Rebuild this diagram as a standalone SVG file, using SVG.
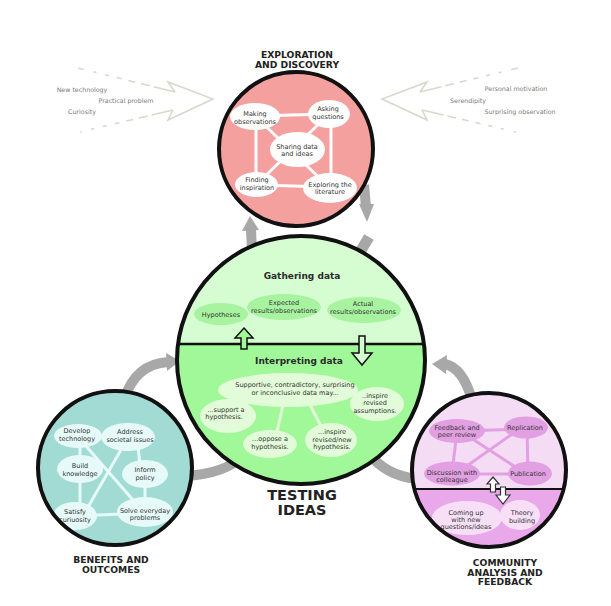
<svg xmlns="http://www.w3.org/2000/svg" width="611" height="606" viewBox="0 0 611 606">
<style>
.t{font-family:"DejaVu Sans",Verdana,sans-serif;font-size:6.5px;fill:#333;text-anchor:middle}
.s{font-family:"DejaVu Sans",Verdana,sans-serif;font-size:6.3px;fill:#7a7a7a;text-anchor:middle}
.h{font-family:"DejaVu Sans",Verdana,sans-serif;font-weight:bold;font-size:9.2px;fill:#222;text-anchor:middle}
.hg{font-family:"DejaVu Sans",Verdana,sans-serif;font-weight:bold;font-size:9px;fill:#2a2a2a;text-anchor:middle}
.big{font-family:"DejaVu Sans",Verdana,sans-serif;font-weight:bold;font-size:14.5px;fill:#222;text-anchor:middle}
.ring{fill:none;stroke:#111;stroke-width:4}
.gray{fill:none;stroke:#a8a8a8;stroke-width:10}
.grayf{fill:#a8a8a8}
.pale{fill:none;stroke:#d8d8cc;stroke-width:1.6}
.wl{stroke:#fff;stroke-width:3}
.tl{stroke:#e6fafa;stroke-width:3}
.pl{stroke:#e2a0e2;stroke-width:3}
</style>
<defs>
<clipPath id="cTop"><circle cx="296" cy="149" r="76"/></clipPath>
<clipPath id="cGreen"><circle cx="301" cy="360" r="123"/></clipPath>
<clipPath id="cTeal"><circle cx="115" cy="468" r="76"/></clipPath>
<clipPath id="cPink"><circle cx="489" cy="470" r="76"/></clipPath>
</defs>
<rect width="611" height="606" fill="#fff"/>

<g id="connectors">
<path class="gray" d="M252 252 L251 229"/>
<polygon class="grayf" points="242,231 259,230 250,216"/>
<path class="gray" d="M364 185 L366 207"/>
<polygon class="grayf" points="359,204 374,204 367,222"/>
<path class="gray" style="stroke-width:11" d="M369 237 L357 257"/>
<path class="gray" d="M124 400 Q135 364 168 362"/>
<polygon class="grayf" points="166,353 167,371 180,361"/>
<path class="gray" d="M244 455 Q225 474 185 476"/>
<path class="gray" d="M445 364 Q463 368 472 400"/>
<polygon class="grayf" points="447,355 446,374 432,364"/>
<path class="gray" d="M368 452 Q385 476 418 479"/>
</g>

<g id="left-arrow">
<path class="pale" d="M175 92 L168 82 L213 99 L168 120 L173 110"/>
<path class="pale" stroke-dasharray="22 4 9 6 7 7 5 8 4 9 3 10" d="M175 92 L78 68"/>
<path class="pale" stroke-dasharray="22 4 9 6 7 7 5 8 4 9 3 10" d="M173 110 L80 132"/>
<text class="s" x="82" y="92">New technology</text>
<text class="s" x="126" y="103">Practical problem</text>
<text class="s" x="82" y="114">Curiosity</text>
</g>
<g id="right-arrow">
<path class="pale" d="M420 92 L427 82 L382 99 L427 120 L422 110"/>
<path class="pale" stroke-dasharray="22 4 9 6 7 7 5 8 4 9 3 10" d="M420 92 L518 68"/>
<path class="pale" stroke-dasharray="22 4 9 6 7 7 5 8 4 9 3 10" d="M422 110 L516 132"/>
<text class="s" x="516" y="91">Personal motivation</text>
<text class="s" x="468" y="103">Serendipity</text>
<text class="s" x="520" y="114">Surprising observation</text>
</g>

<g id="exploration">
<circle cx="296" cy="149" r="77" fill="#f4a09e"/>
<g clip-path="url(#cTop)">
<line class="wl" x1="255" y1="116" x2="329" y2="114"/>
<line class="wl" x1="256" y1="116" x2="256" y2="185"/>
<line class="wl" x1="331" y1="114" x2="331" y2="188"/>
<line class="wl" x1="256" y1="185" x2="330" y2="187"/>
<line class="wl" x1="255" y1="116" x2="330" y2="188"/>
<line class="wl" x1="329" y1="114" x2="256" y2="185"/>
<ellipse cx="255" cy="116.5" rx="25" ry="13.5" fill="#fff"/>
<ellipse cx="329" cy="114" rx="21" ry="14" fill="#fff"/>
<ellipse cx="297.5" cy="149.5" rx="27.5" ry="17.5" fill="#fff"/>
<ellipse cx="256.5" cy="184.5" rx="21.5" ry="12.5" fill="#fff"/>
<ellipse cx="330" cy="188" rx="27" ry="15" fill="#fff"/>
<text class="t" x="255" y="115.5">Making</text>
<text class="t" x="255" y="123.5">observations</text>
<text class="t" x="328" y="110.5">Asking</text>
<text class="t" x="328" y="118.5">questions</text>
<text class="t" x="297" y="148.5">Sharing data</text>
<text class="t" x="297" y="155.5">and ideas</text>
<text class="t" x="257" y="181.5">Finding</text>
<text class="t" x="257" y="189.5">inspiration</text>
<text class="t" x="330" y="186.5">Exploring the</text>
<text class="t" x="330" y="193.5">literature</text>
</g>
<circle class="ring" cx="296" cy="149" r="77"/>
<text class="h" x="297" y="58">EXPLORATION</text>
<text class="h" x="297" y="68">AND DISCOVERY</text>
</g>

<g id="testing">
<g clip-path="url(#cGreen)">
<rect x="170" y="230" width="262" height="114" fill="#d6fdd2"/>
<rect x="170" y="344" width="262" height="150" fill="#a0f898"/>
<ellipse cx="221" cy="314" rx="27" ry="11" fill="#a8f3a0"/>
<ellipse cx="284" cy="307" rx="37" ry="13" fill="#a8f3a0"/>
<ellipse cx="364" cy="310" rx="37" ry="13" fill="#a8f3a0"/>
<line x1="283" y1="405" x2="277" y2="432" stroke="#e2fbd8" stroke-width="3"/>
<line x1="310" y1="405" x2="322" y2="428" stroke="#e2fbd8" stroke-width="3"/>
<ellipse cx="288" cy="390" rx="70" ry="17" fill="#e2fbd8"/>
<ellipse cx="377" cy="404" rx="27" ry="17" fill="#e2fbd8"/>
<ellipse cx="228" cy="416" rx="28" ry="17" fill="#e2fbd8"/>
<ellipse cx="270" cy="444" rx="27" ry="14" fill="#e2fbd8"/>
<ellipse cx="331" cy="440" rx="26" ry="17" fill="#e2fbd8"/>
<line x1="170" y1="344" x2="432" y2="344" stroke="#111" stroke-width="2.5"/>
</g>
<circle class="ring" cx="301" cy="360" r="124"/>
<polygon points="244,328 253,338 247,338 247,349 241,349 241,338 235,338" fill="#a0f898" stroke="#111" stroke-width="1.5"/>
<polygon points="359,336 365,336 365,353 372,353 362,365 352,353 359,353" fill="#d6fdd2" stroke="#111" stroke-width="1.5"/>
<text class="hg" x="302" y="279">Gathering data</text>
<text class="t" x="221" y="317">Hypotheses</text>
<text class="t" x="284" y="305">Expected</text>
<text class="t" x="284" y="313">results/observations</text>
<text class="t" x="363" y="306">Actual</text>
<text class="t" x="363" y="314">results/observations</text>
<text class="hg" x="299" y="364">Interpreting data</text>
<text class="t" x="295" y="387">Supportive, contradictory, surprising</text>
<text class="t" x="295" y="394.5">or inconclusive data may...</text>
<text class="t" x="375" y="398">..inspire</text>
<text class="t" x="375" y="405">revised</text>
<text class="t" x="375" y="412.5">assumptions.</text>
<text class="t" x="226" y="412">...support a</text>
<text class="t" x="224" y="419">hypothesis.</text>
<text class="t" x="270" y="441">...oppose a</text>
<text class="t" x="270" y="449">hypothesis.</text>
<text class="t" x="332" y="434">...inspire</text>
<text class="t" x="332" y="441.5">revised/new</text>
<text class="t" x="332" y="449">hypothesis.</text>
<text class="big" x="302" y="500">TESTING</text>
<text class="big" x="302" y="515">IDEAS</text>
</g>

<g id="benefits">
<circle cx="115" cy="468" r="77" fill="#a2dbd3"/>
<g clip-path="url(#cTeal)">
<line class="tl" x1="80" y1="436" x2="80" y2="516"/>
<line class="tl" x1="137" y1="437" x2="141" y2="474"/>
<line class="tl" x1="145" y1="474" x2="145" y2="512"/>
<line class="tl" x1="75" y1="516" x2="145" y2="513"/>
<line class="tl" x1="85" y1="445" x2="133" y2="500"/>
<line class="tl" x1="122" y1="448" x2="88" y2="507"/>
<ellipse cx="78" cy="436" rx="24" ry="12" fill="#e6fafa"/>
<ellipse cx="128" cy="437" rx="27" ry="14" fill="#e6fafa"/>
<ellipse cx="80" cy="469" rx="23" ry="14" fill="#e6fafa"/>
<ellipse cx="145" cy="474" rx="23" ry="14" fill="#e6fafa"/>
<ellipse cx="75" cy="516" rx="22" ry="14" fill="#e6fafa"/>
<ellipse cx="145" cy="512" rx="28" ry="15" fill="#e6fafa"/>
<text class="t" x="77" y="432.5">Develop</text>
<text class="t" x="77" y="440.5">technology</text>
<text class="t" x="130" y="433.5">Address</text>
<text class="t" x="130" y="441.5">societal issues</text>
<text class="t" x="80" y="467.5">Build</text>
<text class="t" x="80" y="475.5">knowledge</text>
<text class="t" x="145" y="471.5">Inform</text>
<text class="t" x="145" y="479.5">policy</text>
<text class="t" x="75" y="514">Satisfy</text>
<text class="t" x="75" y="521.5">curiuosity</text>
<text class="t" x="145" y="512.5">Solve everyday</text>
<text class="t" x="145" y="519.5">problems</text>
</g>
<circle class="ring" cx="115" cy="468" r="77"/>
<text class="h" x="111" y="563">BENEFITS AND</text>
<text class="h" x="111" y="572.5">OUTCOMES</text>
</g>

<g id="community">
<g clip-path="url(#cPink)">
<rect x="410" y="390" width="160" height="99" fill="#f5dcf5"/>
<rect x="410" y="489" width="160" height="62" fill="#e8a8ea"/>
<line class="pl" x1="457" y1="431" x2="525" y2="429"/>
<line class="pl" x1="457" y1="431" x2="452" y2="473"/>
<line class="pl" x1="527" y1="427" x2="528" y2="473"/>
<line class="pl" x1="452" y1="474" x2="530" y2="474"/>
<line class="pl" x1="468" y1="436" x2="520" y2="470"/>
<line class="pl" x1="515" y1="432" x2="464" y2="468"/>
<ellipse cx="457" cy="431" rx="28" ry="12" fill="#e2a0e2"/>
<ellipse cx="526" cy="427.5" rx="22" ry="11" fill="#e2a0e2"/>
<ellipse cx="452" cy="473.5" rx="28" ry="12" fill="#e2a0e2"/>
<ellipse cx="530" cy="473.5" rx="22" ry="12" fill="#e2a0e2"/>
<line x1="495" y1="515" x2="505" y2="515" stroke="#f7e0f7" stroke-width="3"/>
<ellipse cx="467" cy="518" rx="35" ry="17" fill="#f7e0f7"/>
<ellipse cx="520" cy="515" rx="20" ry="15" fill="#f7e0f7"/>
<line x1="410" y1="489" x2="570" y2="489" stroke="#111" stroke-width="2"/>
<text class="t" x="457" y="429.5">Feedback and</text>
<text class="t" x="457" y="437">peer review</text>
<text class="t" x="525" y="430">Replication</text>
<text class="t" x="452" y="474.5">Discussion with</text>
<text class="t" x="452" y="482">colleague</text>
<text class="t" x="528" y="476">Publication</text>
<text class="t" x="466" y="515">Coming up</text>
<text class="t" x="466" y="522">with new</text>
<text class="t" x="466" y="529">questions/ideas</text>
<text class="t" x="522" y="515">Theory</text>
<text class="t" x="522" y="522.5">building</text>
</g>
<polygon points="493,477 499,484 495.5,484 495.5,492 490.5,492 490.5,484 487,484" fill="#fff" stroke="#333" stroke-width="1.2"/>
<polygon points="500.5,487 505.5,487 505.5,495 510,495 503,504 496,495 500.5,495" fill="#fff" stroke="#333" stroke-width="1.2"/>
<circle class="ring" cx="489" cy="470" r="77"/>
<text class="h" x="505" y="566">COMMUNITY</text>
<text class="h" x="505" y="575.5">ANALYSIS AND</text>
<text class="h" x="505" y="585">FEEDBACK</text>
</g>
</svg>
